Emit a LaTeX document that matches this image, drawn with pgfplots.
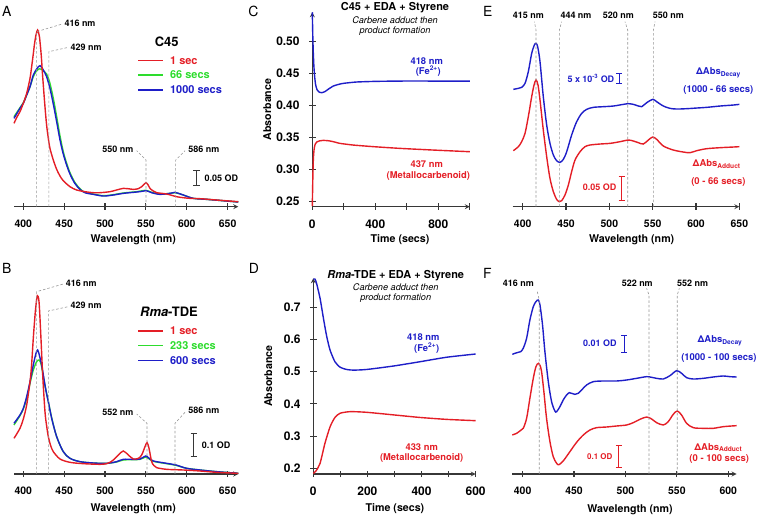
\documentclass[border=0pt]{standalone}
\usepackage{pgfplots}
\pgfplotsset{compat=1.18}
\usepackage{fontspec}
\setmainfont{TeX Gyre Heros}
\definecolor{cred}{RGB}{228,30,38}
\definecolor{cblue}{RGB}{30,30,200}
\definecolor{cgreen}{RGB}{45,220,45}
\definecolor{axgray}{RGB}{55,55,55}
\definecolor{dgray}{RGB}{150,150,150}
\newcommand{\fsz}[1]{\fontsize{#1}{#1}\selectfont}
\tikzset{
  dsh/.style={dgray, line width=0.6bp, dash pattern=on 2.5bp off 2bp},
  sb/.style={line width=1bp},
}
\pgfplotsset{
  base/.style={clip=false, /pgf/number format/assume math mode=true,
    axis line style={-, line width=1.2bp, draw=axgray},
    tick style={line width=1.1bp, draw=axgray},
    tick align=outside, major tick length=6.5bp, minor tick length=6.5bp,
    ticklabel shift=6bp,
    every axis plot/.append style={line width=1.4bp},
    label style={font=\fsz{10.7}\bfseries},
    anchor=south west},
  spec/.style={base, axis x line=bottom, axis y line=none, ytick=\empty,
    ymin=0, ymax=600, y=0.33333bp,
    ticklabel style={font=\fsz{10.5}\bfseries},
    xlabel={Wavelength (nm)}},
  kin/.style={base, axis x line=bottom, axis y line=left,
    ticklabel style={font=\fsz{12}\bfseries},
    xlabel={Time (secs)}, ylabel={Absorbance}},
}
\begin{document}
\begin{tikzpicture}[x=1bp,y=1bp]
\useasboundingbox (0,0) rectangle (757,515);

% ---------------- A ----------------
\begin{axis}[spec, at={(14bp,308.3bp)}, x=0.8173bp, xmin=388.6, xmax=663,
  xtick={400,450,...,650},
  xlabel style={at={(axis description cs:0.532,0)}, anchor=center, yshift=-32.6bp}]
\addplot[cgreen, smooth, tension=0.5] coordinates {(388.6,270)(395.9,297)(400,312)(404.1,335)(408.2,360)(412.2,390)(415.5,405)(419.6,414)(422,412)(424.5,408)(428.5,398)(430.6,385)(432.6,370)(436.7,325)(440.8,270)(444.9,212)(448.9,165)(453,130)(457.1,102)(463,73)(469.3,54)(475.4,43)(485.6,38)(497.9,33)(510.1,36)(522.3,41)(538.7,45)(550.1,49)(557,43)(567.2,38)(579.4,40)(585.6,42)(595.8,35)(608,25)(624.3,22)(648.8,17)(663,14)};
\addplot[cblue, smooth, tension=0.5] coordinates {(388.6,265)(395.9,295)(400,310)(404.1,335)(408.2,360)(412.2,395)(416.3,413)(418.4,420)(420.4,423)(422.4,418)(424.5,410)(428.5,390)(432.6,355)(436.7,308)(440.8,255)(444.9,200)(448.9,158)(453,125)(457.1,98)(463,70)(469.3,52)(475.4,42)(485.6,37)(497.9,32)(510.1,35)(522.3,40)(538.7,44)(545,46)(550.1,48)(553,46)(557,42)(567.2,37)(579.4,40)(585.6,43)(590,40)(595.8,35)(608,25)(624.3,22)(648.8,17)(663,14)};
\addplot[cred, smooth, tension=0.5] coordinates {(388.6,250)(392,268)(395.9,285)(400,310)(404.1,340)(408.2,385)(410.2,420)(412.2,458)(413.5,485)(415.5,515)(417.5,530)(419.6,512)(420.4,495)(422,452)(423.7,390)(426.5,300)(428.5,245)(430.6,205)(432.6,175)(436.7,140)(440.8,112)(444.9,92)(448.9,78)(457.1,60)(465.3,50)(475.4,45)(485.6,42)(493.8,42)(506,45)(514,50)(522.3,55)(528,54)(534.6,52)(540.7,54)(544.8,60)(548,68)(550.1,72)(552.5,66)(555,55)(559,47)(563.1,42)(575.4,38)(587.6,30)(595.8,27)(603.9,25)(616.2,24)(636.5,20)(663,15)};
\draw[dsh] (axis cs:416.3,0) -- (axis cs:416.3,525) -- (axis cs:447.5,548);
\node[anchor=west, font=\fsz{9}\bfseries, inner sep=1bp] at (axis cs:449,550) {416 nm};
\draw[dsh] (axis cs:431.2,0) -- (axis cs:431.2,465) -- (axis cs:455,478);
\node[anchor=west, font=\fsz{9}\bfseries, inner sep=1bp] at (axis cs:456.5,478) {429 nm};
\draw[dsh] (axis cs:550.1,0) -- (axis cs:550.1,140) -- (axis cs:538.7,168);
\node[anchor=east, font=\fsz{9}\bfseries, inner sep=1bp] at (axis cs:536,173) {550 nm};
\draw[dsh] (axis cs:586.4,0) -- (axis cs:586.4,140) -- (axis cs:597.8,168);
\node[anchor=west, font=\fsz{9}\bfseries, inner sep=1bp] at (axis cs:600.5,173) {586 nm};
\draw[sb, axgray] (axis cs:612.1,65) -- (axis cs:612.1,108);
\draw[sb, axgray] (axis cs:608.1,65) -- (axis cs:616.1,65);
\draw[sb, axgray] (axis cs:608.1,108) -- (axis cs:616.1,108);
\node[anchor=west, font=\fsz{9}\bfseries, inner sep=1bp] at (axis cs:620.5,86) {0.05 OD};
\node[font=\fsz{13}\bfseries] at (axis cs:575.4,495) {C45};
\draw[cred, line width=1.4bp] (axis cs:540.7,438) -- (axis cs:571.3,438);
\node[anchor=west, text=cred, font=\fsz{11}\bfseries, inner sep=0pt] at (axis cs:579.4,438) {1 sec};
\draw[cgreen, line width=1.4bp] (axis cs:540.7,395) -- (axis cs:571.3,395);
\node[anchor=west, text=cgreen, font=\fsz{11}\bfseries, inner sep=0pt] at (axis cs:579.4,395) {66 secs};
\draw[cblue, line width=1.4bp] (axis cs:540.7,350) -- (axis cs:571.3,350);
\node[anchor=west, text=cblue, font=\fsz{11}\bfseries, inner sep=0pt] at (axis cs:579.4,350) {1000 secs};
\end{axis}

% ---------------- B ----------------
\begin{axis}[spec, at={(14bp,41bp)}, x=0.8173bp, xmin=388.6, xmax=663,
  xtick={400,450,...,650},
  xlabel style={at={(axis description cs:0.532,0)}, anchor=center, yshift=-35bp}]
\addplot[cgreen, smooth, tension=0.5] coordinates {(388.6,147)(395.9,175)(400,195)(404.1,227)(408.2,272)(412.2,312)(416.3,337)(419.2,342)(421,335)(422.4,322)(424.5,292)(426.5,265)(428.5,242)(430.6,217)(434.7,169)(440.8,112)(448.9,67)(457.1,47)(469.3,37)(485.6,33)(502,32)(514.2,36)(522.3,42)(534.6,43)(542.8,44)(549.7,51)(553,47)(559.1,38)(575.4,31)(586.8,26)(599.9,17)(616.2,12)(636.5,7)(663,2)};
\addplot[cblue, smooth, tension=0.5] coordinates {(388.6,152)(395.9,177)(400,197)(404.1,232)(408.2,277)(412.2,327)(415.5,362)(417.5,372)(419.6,357)(422.4,327)(424.5,297)(426.5,267)(428.5,240)(430.6,217)(434.7,167)(440.8,112)(448.9,67)(457.1,47)(469.3,37)(485.6,33)(502,32)(514.2,37)(522.3,44)(534.6,44)(542.8,45)(549.7,54)(553,49)(559.1,39)(575.4,32)(586.8,27)(599.9,17)(616.2,12)(636.5,7)(663,2)};
\addplot[cred, smooth, tension=0.5] coordinates {(388.6,107)(395.9,137)(400,165)(404.1,207)(408.2,277)(410.2,330)(412.2,407)(413.8,460)(415.1,497)(417.1,535)(419.2,517)(421.2,427)(423.7,297)(426.5,187)(428.5,145)(430.6,112)(433.5,85)(436.7,67)(444.9,45)(457.1,35)(473.4,31)(493.8,29)(502,31)(506,35)(510.1,42)(516.3,57)(522.3,69)(528.5,57)(534.6,45)(540.8,47)(544.8,57)(548.9,82)(551.4,94)(553.8,77)(557,37)(560,25)(563.1,19)(575.4,14)(595.8,12)(616.2,9)(636.5,5)(663,2)};
\draw[dsh] (axis cs:416.3,0) -- (axis cs:416.3,547) -- (axis cs:448.9,570);
\node[anchor=west, font=\fsz{9}\bfseries, inner sep=1bp] at (axis cs:450.5,572) {416 nm};
\draw[dsh] (axis cs:430.6,0) -- (axis cs:430.6,489) -- (axis cs:455,502);
\node[anchor=west, font=\fsz{9}\bfseries, inner sep=1bp] at (axis cs:456.5,505) {429 nm};
\draw[dsh] (axis cs:551.3,0) -- (axis cs:551.3,152) -- (axis cs:538.7,180);
\node[anchor=east, font=\fsz{9}\bfseries, inner sep=1bp] at (axis cs:536,185) {552 nm};
\draw[dsh] (axis cs:585.6,0) -- (axis cs:585.6,152) -- (axis cs:597.8,185);
\node[anchor=west, font=\fsz{9}\bfseries, inner sep=1bp] at (axis cs:600.5,190) {586 nm};
\draw[sb, axgray] (axis cs:608.8,52) -- (axis cs:608.8,122);
\draw[sb, axgray] (axis cs:604.8,52) -- (axis cs:612.8,52);
\draw[sb, axgray] (axis cs:604.8,122) -- (axis cs:612.8,122);
\node[anchor=west, font=\fsz{9}\bfseries, inner sep=1bp] at (axis cs:617,87) {0.1 OD};
\node[font=\fsz{13}\bfseries] at (axis cs:578.2,487) {\textit{Rma}-TDE};
\draw[cred, line width=1.4bp] (axis cs:540.7,429) -- (axis cs:571.3,429);
\node[anchor=west, text=cred, font=\fsz{11}\bfseries, inner sep=0pt] at (axis cs:579.4,429) {1 sec};
\draw[cgreen, line width=1.5bp] (axis cs:540.7,385.5) -- (axis cs:571.3,385.5);
\node[anchor=west, text=cgreen, font=\fsz{11}\bfseries, inner sep=0pt] at (axis cs:579.4,385) {233 secs};
\draw[cblue, line width=1.4bp] (axis cs:540.7,340) -- (axis cs:571.3,340);
\node[anchor=west, text=cblue, font=\fsz{11}\bfseries, inner sep=0pt] at (axis cs:579.4,340) {600 secs};
\end{axis}

% ---------------- C ----------------
\begin{axis}[kin, at={(312.3bp,308.3bp)}, x=0.1575bp, y=640bp,
  xmin=0, xmax=1000, ymin=0.2422, ymax=0.546,
  xtick={0,400,800}, minor xtick={200,600,1000},
  ytick={0.25,0.3,0.35,0.4,0.45,0.5},
  yticklabel style={/pgf/number format/.cd, fixed, fixed zerofill, precision=2},
  xlabel style={at={(axis description cs:0.557,0)}, anchor=center, yshift=-33.3bp},
  ylabel style={at={(axis description cs:-0.286,0.5)}, anchor=center}]
\addplot[cblue, smooth, tension=0.3] coordinates {(0,0.546)(3,0.51)(6,0.485)(10,0.462)(15,0.445)(21,0.433)(30,0.425)(45,0.421)(60,0.4203)(80,0.422)(100,0.4255)(133,0.4307)(170,0.4335)(200,0.435)(280,0.437)(400,0.438)(560,0.4385)(800,0.4385)(1000,0.4385)};
\addplot[cred, smooth, tension=0.3] coordinates {(0,0.243)(2,0.27)(4,0.295)(7,0.318)(11,0.331)(16,0.338)(21,0.341)(30,0.3435)(45,0.345)(70,0.3458)(100,0.3453)(130,0.344)(176,0.3411)(260,0.3385)(387,0.336)(557,0.3333)(768,0.3307)(1000,0.3281)};
\end{axis}

% ---------------- D ----------------
\begin{axis}[kin, at={(313.3bp,41bp)}, x=0.27057bp, y=322bp,
  xmin=0, xmax=600, ymin=0.1824, ymax=0.79,
  xtick={0,200,400,600}, minor xtick={100,300,500},
  ytick={0.2,0.3,0.4,0.5,0.6,0.7},
  yticklabel style={/pgf/number format/.cd, fixed, fixed zerofill, precision=1},
  xlabel style={at={(axis description cs:0.503,0)}, anchor=center, yshift=-35bp},
  ylabel style={at={(axis description cs:-0.277,0.5)}, anchor=center}]
\addplot[cblue, smooth, tension=0.4] coordinates {(0,0.788)(6,0.788)(12,0.7745)(25,0.728)(37,0.668)(49,0.612)(62,0.567)(80,0.531)(99,0.514)(123,0.507)(148,0.505)(197,0.507)(296,0.5177)(394,0.531)(493,0.545)(600,0.555)};
\addplot[cred, smooth, tension=0.4] coordinates {(0,0.184)(10,0.192)(25,0.2155)(43,0.2776)(62,0.329)(80,0.358)(99,0.371)(136,0.376)(197,0.374)(296,0.366)(394,0.358)(493,0.352)(600,0.348)};
\end{axis}

% ---------------- E ----------------
\begin{axis}[spec, at={(512.7bp,308.3bp)}, x=0.86667bp, xmin=388.5, xmax=650,
  xtick={400,450,...,650},
  xlabel style={at={(axis description cs:0.525,0)}, anchor=center, yshift=-32.7bp}]
\addplot[cblue, smooth, tension=0.5] coordinates {(389.2,352)(395,355)(398.8,358)(402.7,370)(406.5,405)(410.4,460)(413.5,485)(415.4,490)(417.3,480)(420,435)(423.8,330)(427.7,245)(431.5,190)(435.4,155)(439.2,138)(443.1,133)(446.9,142)(450.8,165)(456.5,215)(462.3,255)(468.1,280)(473.8,292)(481.5,298)(493.1,300)(504.6,302)(516.2,307)(521.9,309)(527.7,307)(533.5,302)(537.3,300)(543.1,312)(550,322)(554.6,315)(562.3,302)(570,295)(577.7,293)(589.2,294)(600.8,296)(612.3,298)(627.7,302)(643.1,305)(650,307)};
\addplot[cred, smooth, tension=0.5] coordinates {(389.2,168)(395,180)(398.8,195)(402.7,220)(406.5,270)(410.4,330)(413.1,365)(415.4,380)(417.7,365)(420,320)(423.8,230)(427.7,150)(431.5,85)(435.4,45)(439.2,22)(442.3,15)(445,18)(448.8,35)(452.7,65)(456.5,105)(460.4,140)(466.2,165)(471.9,180)(477.7,185)(489.2,188)(500.8,190)(512.3,195)(521.9,200)(527.7,197)(533.5,192)(539.2,188)(545,200)(550,209)(554.6,202)(562.3,182)(573.8,170)(585.4,164)(593.1,162)(600.8,168)(612.3,174)(627.7,177)(643.1,179)(650,180)};
\draw[dsh] (axis cs:415.4,0) -- (axis cs:415.4,530) -- (axis cs:413.5,555);
\node[font=\fsz{9}\bfseries] at (axis cs:406.5,575) {415 nm};
\draw[dsh] (axis cs:442.3,0) -- (axis cs:442.3,530) -- (axis cs:445,555);
\node[font=\fsz{9}\bfseries] at (axis cs:461.5,575) {444 nm};
\draw[dsh] (axis cs:521.2,0) -- (axis cs:521.2,530) -- (axis cs:518.1,555);
\node[font=\fsz{9}\bfseries] at (axis cs:510.4,575) {520 nm};
\draw[dsh] (axis cs:550.8,0) -- (axis cs:550.8,530) -- (axis cs:552.7,555);
\node[font=\fsz{9}\bfseries] at (axis cs:568.1,575) {550 nm};
\draw[sb, cblue] (axis cs:511.5,370) -- (axis cs:511.5,400);
\draw[sb, cblue] (axis cs:508,370) -- (axis cs:515,370);
\draw[sb, cblue] (axis cs:508,400) -- (axis cs:515,400);
\node[anchor=east, text=cblue, font=\fsz{9}\bfseries, inner sep=1bp] at (axis cs:507,386) {5 x 10\textsuperscript{-3} OD};
\draw[sb, cred] (axis cs:514.2,20) -- (axis cs:514.2,90);
\draw[sb, cred] (axis cs:510.7,20) -- (axis cs:517.7,20);
\draw[sb, cred] (axis cs:510.7,90) -- (axis cs:517.7,90);
\node[anchor=east, text=cred, font=\fsz{9}\bfseries, inner sep=1bp] at (axis cs:509.5,58) {0.05 OD};
\node[text=cblue, font=\fsz{9.5}\bfseries] at (axis cs:625.8,402) {ΔAbs\textsubscript{Decay}};
\node[text=cblue, font=\fsz{9.5}\bfseries] at (axis cs:625.8,350) {(1000 - 66 secs)};
\node[text=cred, font=\fsz{9.5}\bfseries] at (axis cs:623.8,128) {ΔAbs\textsubscript{Adduct}};
\node[text=cred, font=\fsz{9.5}\bfseries] at (axis cs:625.8,75) {(0 - 66 secs)};
\end{axis}

% ---------------- F ----------------
\begin{axis}[spec, at={(512.3bp,41bp)}, x=1.02833bp, xmin=390, xmax=608.1,
  xtick={400,450,...,600},
  xlabel style={at={(axis description cs:0.525,0)}, anchor=center, yshift=-35.3bp}]
\addplot[cblue, smooth, tension=0.5] coordinates {(390,359)(392.5,362)(395.8,365)(398.1,367)(400.6,377)(403.9,407)(407.1,462)(410.4,502)(413,517)(415.2,522)(416.9,507)(419.4,447)(421.7,367)(425,277)(428.2,217)(431.4,189)(433.1,187)(436.3,202)(439.5,222)(442.8,237)(445.4,244)(447.6,242)(450.9,239)(454.1,242)(457.4,252)(462.2,267)(468.7,277)(478.4,279)(491.4,279)(501.1,282)(510.9,287)(520.6,292)(525.5,290)(530.3,287)(536.8,285)(543.3,295)(549.8,310)(554.6,302)(559.5,289)(566,285)(575.7,287)(585.4,291)(595.1,294)(601.6,292)(608.1,291)};
\addplot[cred, smooth, tension=0.5] coordinates {(390,117)(394.2,122)(397.4,129)(400.6,137)(403.9,167)(407.1,227)(410.4,287)(413,322)(415.6,332)(418.2,312)(420.7,247)(423.3,167)(426.6,97)(429.8,52)(433.1,32)(435.3,28)(439.5,39)(446,67)(452.5,95)(459,117)(465.5,132)(472,139)(481.7,141)(491.4,144)(501.1,147)(507.6,154)(514.1,164)(520.6,171)(525.5,165)(530.3,154)(536.8,147)(541.6,157)(546.5,179)(550.4,189)(554.6,177)(559.5,152)(566,139)(575.7,137)(585.4,137)(595.1,142)(608.1,145)};
\draw[dsh] (axis cs:416.2,0) -- (axis cs:416.2,522) -- (axis cs:414.3,547);
\node[font=\fsz{9}\bfseries] at (axis cs:395.8,572) {416 nm};
\draw[dsh] (axis cs:522.9,0) -- (axis cs:522.9,537) -- (axis cs:520.6,557);
\node[font=\fsz{9}\bfseries] at (axis cs:511.5,572) {522 nm};
\draw[dsh] (axis cs:550.4,0) -- (axis cs:550.4,537) -- (axis cs:552.4,557);
\node[font=\fsz{9}\bfseries] at (axis cs:565.3,572) {552 nm};
\draw[sb, cblue] (axis cs:498.9,365) -- (axis cs:498.9,417);
\draw[sb, cblue] (axis cs:495.9,365) -- (axis cs:501.9,365);
\draw[sb, cblue] (axis cs:495.9,417) -- (axis cs:501.9,417);
\node[anchor=east, text=cblue, font=\fsz{9}\bfseries, inner sep=1bp] at (axis cs:492.5,391) {0.01 OD};
\draw[sb, cred] (axis cs:493.7,20) -- (axis cs:493.7,84);
\draw[sb, cred] (axis cs:490.7,20) -- (axis cs:496.7,20);
\draw[sb, cred] (axis cs:490.7,84) -- (axis cs:496.7,84);
\node[anchor=east, text=cred, font=\fsz{8}\bfseries, inner sep=1bp] at (axis cs:488.5,52) {0.1 OD};
\node[text=cblue, font=\fsz{9.5}\bfseries] at (axis cs:591.9,399) {ΔAbs\textsubscript{Decay}};
\node[text=cblue, font=\fsz{9.5}\bfseries] at (axis cs:590.9,347) {(1000 - 100 secs)};
\node[text=cred, font=\fsz{9.5}\bfseries] at (axis cs:590.3,79) {ΔAbs\textsubscript{Adduct}};
\node[text=cred, font=\fsz{9.5}\bfseries] at (axis cs:591.2,45) {(0 - 100 secs)};
\end{axis}

% ---------------- C/D annotations ----------------
\node[font=\fsz{11}\bfseries] at (395,507.7) {C45 + EDA + Styrene};
\node[font=\fsz{9.2}\itshape] at (395,495) {Carbene adduct then};
\node[font=\fsz{9.2}\itshape] at (395,484) {product formation};
\node[text=cblue, font=\fsz{9.4}\bfseries] at (426.7,454.3) {418 nm};
\node[text=cblue, font=\fsz{9.4}\bfseries] at (428.3,443.7) {(Fe\textsuperscript{2+})};
\node[text=cred, font=\fsz{9.4}\bfseries] at (426.7,350.7) {437 nm};
\node[text=cred, font=\fsz{9.4}\bfseries] at (428.3,339.3) {(Metallocarbenoid)};

\node[font=\fsz{11}\bfseries] at (395.7,239.3) {\textit{Rma}-TDE + EDA + Styrene};
\node[font=\fsz{9.2}\itshape] at (395.7,227.7) {Carbene adduct then};
\node[font=\fsz{9.2}\itshape] at (395.7,216.7) {product formation};
\node[text=cblue, font=\fsz{9.4}\bfseries] at (423.3,178.3) {418 nm};
\node[text=cblue, font=\fsz{9.4}\bfseries] at (426.7,166.7) {(Fe\textsuperscript{2+})};
\node[text=cred, font=\fsz{9.4}\bfseries] at (421.7,68.3) {433 nm};
\node[text=cred, font=\fsz{9.4}\bfseries] at (421.7,56.7) {(Metallocarbenoid)};

% panel letters
\node[font=\fsz{14}] at (6.7,503.3) {A};
\node[font=\fsz{14}] at (253.5,503.3) {C};
\node[font=\fsz{14}] at (487.7,503.3) {E};
\node[font=\fsz{14}] at (6.7,246.5) {B};
\node[font=\fsz{14}] at (254,247) {D};
\node[font=\fsz{14}] at (487.3,242) {F};
\end{tikzpicture}
\end{document}
